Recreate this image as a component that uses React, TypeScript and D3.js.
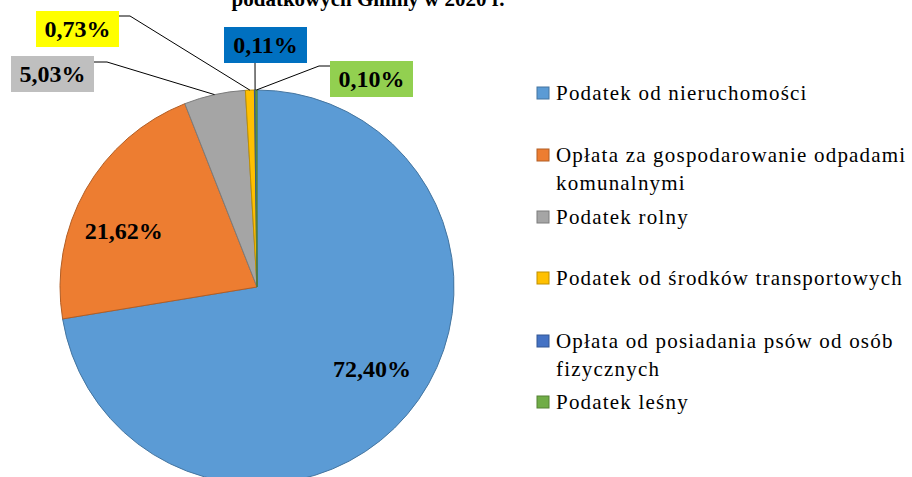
import React from 'react';
import * as d3 from 'd3';

// Chart data
const categories = [
  'Podatek od nieruchomości',
  'Opłata za gospodarowanie odpadami komunalnymi',
  'Podatek rolny',
  'Podatek od środków transportowych',
  'Opłata od posiadania psów od osób fizycznych',
  'Podatek leśny',
];
const shares = [72.4, 21.62, 5.03, 0.73, 0.11, 0.1];
const legendLines = [
  ['Podatek od nieruchomości'],
  ['Opłata za gospodarowanie odpadami', 'komunalnymi'],
  ['Podatek rolny'],
  ['Podatek od środków transportowych'],
  ['Opłata od posiadania psów od osób', 'fizycznych'],
  ['Podatek leśny'],
];
const titleLine = 'podatkowych Gminy w 2020 r.';

const sliceColors = ['#5B9BD5', '#ED7D31', '#A5A5A5', '#FFC000', '#4472C4', '#70AD47'];

const serif = "'Liberation Serif', 'Times New Roman', serif";

// label layout: inside labels are nudged from the centroid, outside ones sit in boxes
const insideNudge: Record<number, [number, number]> = { 0: [6, -10], 1: [-9, 15] };
const outsideBoxes: Record<number, { x: number; y: number; w: number; h: number; fill: string; elbow: [number, number]; end: [number, number] }> = {
  2: { x: 11, y: 56, w: 83, h: 36, fill: '#BFBFBF', elbow: [107, 62], end: [94, 62] },
  3: { x: 36, y: 11, w: 83, h: 36, fill: '#FFFF00', elbow: [130, 16], end: [119, 16] },
  4: { x: 224, y: 27, w: 83, h: 36, fill: '#0070C0', elbow: [255, 63], end: [255, 63] },
  5: { x: 330, y: 61, w: 83, h: 36, fill: '#92D050', elbow: [319, 66], end: [330, 66] },
};

const fmt = (v: number) => v.toFixed(2).replace('.', ',') + '%';

const App = () => {
  const width = 912;
  const height = 477;
  const cx = 257;
  const cy = 287;
  const r = 197;

  const pie = d3.pie<number>().sort(null).value((d) => d)(shares);
  const arc = d3.arc<d3.PieArcDatum<number>>().innerRadius(0).outerRadius(r);
  const labelArc = d3.arc<d3.PieArcDatum<number>>().innerRadius(143).outerRadius(143);

  const edgePoint = (a: d3.PieArcDatum<number>): [number, number] => {
    const m = (a.startAngle + a.endAngle) / 2;
    return [cx + r * Math.sin(m), cy - r * Math.cos(m)];
  };

  const legendY = [100, 162, 224, 285, 348, 409];
  const boldLabel = { fontFamily: serif, fontWeight: 'bold' as const, fontSize: 24 };

  return (
    <svg width={width} height={height} style={{ position: 'absolute', left: 0, top: 0, background: '#fff' }}>
      <text x={368} y={6} textAnchor="middle" style={{ fontFamily: serif, fontWeight: 'bold', fontSize: 21 }}>
        {titleLine}
      </text>

      <g transform={`translate(${cx},${cy})`}>
        {pie.map((p, i) => (
          <path
            key={categories[i]}
            d={arc(p) || ''}
            fill={sliceColors[i]}
            stroke={d3.color(sliceColors[i])!.darker(0.8).formatHex()}
            strokeWidth={1}
          />
        ))}
        {pie.map((p, i) => {
          if (!insideNudge[i]) return null;
          const [lx, ly] = labelArc.centroid(p);
          const [dx, dy] = insideNudge[i];
          return (
            <text key={`in-${i}`} x={lx + dx} y={ly + dy} dy="0.33em" textAnchor="middle" style={boldLabel}>
              {fmt(shares[i])}
            </text>
          );
        })}
      </g>

      {pie.map((p, i) => {
        const b = outsideBoxes[i];
        if (!b) return null;
        const [ex, ey] = edgePoint(p);
        return (
          <g key={`out-${i}`}>
            <polyline
              points={`${ex},${ey} ${b.elbow[0]},${b.elbow[1]} ${b.end[0]},${b.end[1]}`}
              fill="none"
              stroke="#000"
              strokeWidth={1}
            />
            <rect x={b.x} y={b.y} width={b.w} height={b.h} fill={b.fill} />
            <text x={b.x + b.w / 2} y={b.y + b.h / 2} dy="0.35em" textAnchor="middle" style={boldLabel}>
              {fmt(shares[i])}
            </text>
          </g>
        );
      })}

      {legendLines.map((lines, i) => (
        <g key={`lg-${i}`}>
          <rect
            x={537}
            y={legendY[i] - 13}
            width={12}
            height={12}
            fill={sliceColors[i]}
            stroke={d3.color(sliceColors[i])!.darker(0.8).formatHex()}
            strokeWidth={1}
          />
          {lines.map((t, j) => (
            <text key={j} x={556} y={legendY[i] + j * 28} style={{ fontFamily: serif, fontSize: 21, letterSpacing: 1.2 }}>
              {t}
            </text>
          ))}
        </g>
      ))}
    </svg>
  );
};

export default App;
